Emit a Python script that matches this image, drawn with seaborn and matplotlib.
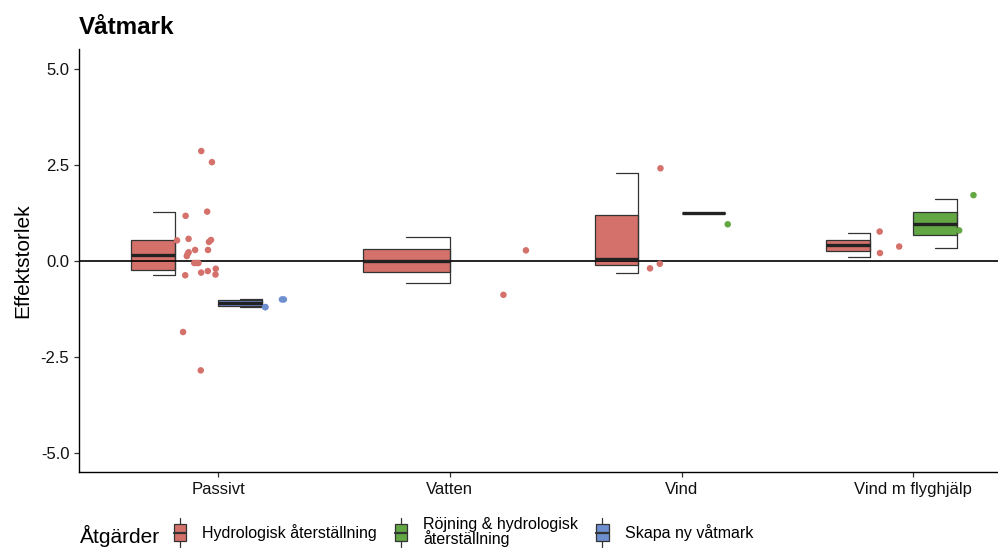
import numpy as np
import pandas as pd
import matplotlib
matplotlib.use("Agg")
import matplotlib.pyplot as plt
from matplotlib.patches import Rectangle, Patch
from matplotlib.lines import Line2D
from matplotlib.legend_handler import HandlerBase
import seaborn as sns

# categories and groups
categories = ["Passivt", "Vatten", "Vind", "Vind m flyghjälp"]
groups = ["Hydrologisk återställning", "Röjning & hydrologisk\nåterställning", "Skapa ny våtmark"]
group_colors = ["#d4716b", "#62a744", "#6d8fcf"]

# box statistics (one entry per box)
box_cat = ["Passivt", "Passivt", "Vatten", "Vind", "Vind", "Vind m flyghjälp", "Vind m flyghjälp"]
box_grp = [0, 2, 0, 0, 1, 0, 1]
box_lo = [-0.37, -1.21, -0.58, -0.32, 1.25, 0.10, 0.35]
box_q1 = [-0.24, -1.17, -0.29, -0.10, 1.25, 0.26, 0.67]
box_med = [0.16, -1.09, 0.00, 0.06, 1.25, 0.42, 0.97]
box_q3 = [0.54, -1.01, 0.31, 1.19, 1.25, 0.56, 1.28]
box_hi = [1.29, -0.98, 0.63, 2.29, 1.25, 0.72, 1.61]

# individual effect sizes
pts_passivt_hydro = [2.87, 2.58, 1.29, 1.18, 0.58, 0.55, 0.54, 0.50, 0.29, 0.29, 0.23, 0.19,
                     0.13, -0.05, -0.05, -0.05, -0.20, -0.26, -0.30, -0.35, -0.37, -1.85, -2.85]
pts_passivt_skapa = [-1.20, -1.20, -1.00, -1.00]
pts_vatten_hydro = [0.28, -0.88]
pts_vind_hydro = [2.42, -0.07, -0.19]
pts_vind_rojning = [0.96]
pts_flyg_hydro = [0.77, 0.38, 0.21]
pts_flyg_rojning = [1.72, 0.80]

point_sets = [
    ("Passivt", 0, pts_passivt_hydro),
    ("Passivt", 2, pts_passivt_skapa),
    ("Vatten", 0, pts_vatten_hydro),
    ("Vind", 0, pts_vind_hydro),
    ("Vind", 1, pts_vind_rojning),
    ("Vind m flyghjälp", 0, pts_flyg_hydro),
    ("Vind m flyghjälp", 1, pts_flyg_rojning),
]

DODGE = 0.75


def slot(cat, grp):
    present = sorted(g for c, g in zip(box_cat, box_grp) if c == cat)
    n = len(present)
    w = DODGE / n
    left = categories.index(cat) - DODGE / 2 + present.index(grp) * w
    return left, w


class BoxKey(HandlerBase):
    def create_artists(self, legend, orig, xd, yd, w, h, fontsize, trans):
        x0, y0 = -xd, -yd
        fc = orig.get_facecolor()
        whisk = Line2D([x0 + w / 2] * 2, [y0 - h * 0.3, y0 + h * 1.3], color="#333333", lw=0.9)
        box = Rectangle((x0 + w * 0.1, y0 + h * 0.05), w * 0.8, h * 0.9,
                        facecolor=fc, edgecolor="#333333", lw=0.9)
        med = Line2D([x0 + w * 0.1, x0 + w * 0.9], [y0 + h / 2] * 2, color="#333333", lw=1.6)
        for a in (whisk, box, med):
            a.set_transform(trans)
        return [whisk, box, med]


sns.set_style("ticks")
plt.rcParams["font.family"] = ["Liberation Sans", "DejaVu Sans"]
plt.rcParams["text.color"] = "black"
plt.rcParams["axes.labelcolor"] = "black"

fig = plt.figure(figsize=(9.98, 5.51), dpi=100)
ax = fig.add_axes([0.0792, 0.1434, 0.9208, 0.7676])

# half boxplots
for cat, g, lo, q1, med, q3, hi in zip(box_cat, box_grp, box_lo, box_q1, box_med, box_q3, box_hi):
    left, w = slot(cat, g)
    center = left + w / 2
    ax.add_patch(Rectangle((left, q1), w / 2, q3 - q1, facecolor=group_colors[g],
                           edgecolor="#333333", lw=0.9, zorder=2))
    ax.plot([center, center], [lo, hi], color="#333333", lw=0.9, zorder=2)
    ax.plot([left + w / 4, center], [hi, hi], color="#333333", lw=0.9, zorder=2)
    ax.plot([left + w / 4, center], [lo, lo], color="#333333", lw=0.9, zorder=2)
    ax.plot([left, center], [med, med], color="#222222", lw=2.4, zorder=3, solid_capstyle="butt")

ax.axhline(0, color="black", lw=1.2, zorder=2.5)

# jittered points in the right half of each slot
rng = np.random.default_rng(7)
rows = []
for cat, g, vals in point_sets:
    left, w = slot(cat, g)
    center = left + w / 2
    for v in vals:
        rows.append({"x": center + rng.uniform(0.05, 0.95) * w / 2, "y": v, "grp": groups[g]})
df = pd.DataFrame(rows)
sns.scatterplot(data=df, x="x", y="y", hue="grp", hue_order=groups, palette=group_colors,
                s=22, edgecolor="none", legend=False, ax=ax, zorder=4)

ax.set_xlim(-0.6, 3.365)
ax.set_ylim(-5.5, 5.53)
ax.set_xticks(range(len(categories)))
ax.set_xticklabels(categories)
yt = [-5.0, -2.5, 0.0, 2.5, 5.0]
ax.set_yticks(yt)
ax.set_yticklabels([f"{v:.1f}" for v in yt])
ax.tick_params(labelsize=12, length=3.5, width=0.9, color="#333333", labelcolor="#111111", pad=3.5)
ax.set_xlabel("")
ax.set_ylabel("Effektstorlek", fontsize=15, labelpad=6)
for s in ["left", "bottom"]:
    ax.spines[s].set_color("black")
    ax.spines[s].set_linewidth(1.0)
sns.despine(ax=ax)
ax.set_title("Våtmark", loc="left", fontsize=17.5, fontweight="bold", pad=11, color="black")

# legend with title to the left
fig.text(80 / 998, 1 - 536 / 551, "Åtgärder", fontsize=15, va="center", ha="left")
handles = [Patch(facecolor=c) for c in group_colors]
leg = fig.legend(handles, groups, handler_map={Patch: BoxKey()}, loc="center left",
                 bbox_to_anchor=(172 / 998, 1 - 532 / 551), ncol=3, frameon=False,
                 fontsize=11.5, handlelength=1.0, handleheight=1.4, handletextpad=0.9,
                 columnspacing=1.0, borderpad=0, borderaxespad=0)
for t in leg.get_texts():
    t.set_linespacing(0.9)

fig.savefig("out.png", dpi=100)
